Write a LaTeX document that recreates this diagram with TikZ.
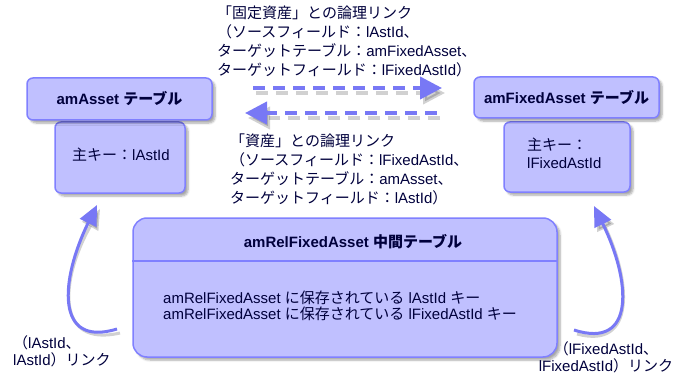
\documentclass[tikz,border=0pt]{standalone}
\usepackage{fontspec}
\setmainfont{Liberation Sans}
\newfontfamily\jpfont{Noto Sans CJK JP}
\newcommand\jpt[1]{{\jpfont #1}}
\usetikzlibrary{arrows.meta,shadows.blur,calc}
\definecolor{boxfill}{RGB}{192,192,255}
\definecolor{boxline}{RGB}{128,128,255}
\definecolor{txt}{RGB}{0,0,60}
\definecolor{arr}{RGB}{120,120,245}
\begin{document}
\begin{tikzpicture}[x=1pt,y=-1pt,
  font=\fontsize{15}{19}\selectfont, text=txt,
  box/.style={draw=boxline, line width=1.5pt, fill=boxfill, rounded corners=6pt, inner sep=0pt,
    blur shadow={shadow xshift=3pt, shadow yshift=-3pt, shadow blur steps=6, shadow opacity=35}},
  hdr/.style={font=\fontsize{15}{16}\selectfont\bfseries},
  lbl/.style={inner sep=0pt, anchor=north west, align=left},
  dasharrow/.style={draw=arr, line width=4pt, dash pattern=on 12pt off 8pt, -{Triangle[length=22pt,width=22pt]}},
  dashshadow/.style={draw=black, opacity=0.18, line width=4pt, dash pattern=on 12pt off 8pt, -{Triangle[length=22pt,width=22pt]}},
  curvearrow/.style={draw=arr, line width=3pt, -{Triangle[length=20pt,width=18pt]}},
  curveshadow/.style={draw=black, opacity=0.18, line width=3pt, -{Triangle[length=20pt,width=18pt]}}
]
\useasboundingbox (0,0) rectangle (677,377);

% left table
\node[box, minimum width=130pt, minimum height=71pt] (lb) at (120,157.5) {};
\node[box, minimum width=185pt, minimum height=42pt, hdr] (lh) at (119.5,99) {amAsset \jpt{テーブル}};
\node[lbl] (lbt) at (72,148) {\jpt{主キー：}lAstId};

% right table
\node[box, minimum width=126pt, minimum height=70pt] (rb) at (567,157) {};
\node[box, minimum width=185pt, minimum height=41pt, hdr] (rh) at (566.5,97.5) {amFixedAsset \jpt{テーブル}};
\node[lbl, font=\fontsize{15}{18}\selectfont] (rbt) at (527,138) {\jpt{主キー：}\\lFixedAstId};

% middle table
\node[box, rounded corners=14pt, minimum width=424pt, minimum height=139pt] (mid) at (345,287.5) {};
\coordinate (divy) at (0,261);
\draw[boxline, line width=1.2pt] (mid.west |- divy) -- (mid.east |- divy);
\node[hdr] (midh) at (353,242) {amRelFixedAsset \jpt{中間テーブル}};
\node[lbl, font=\fontsize{15}{16}\selectfont] (midt) at (163,291) {amRelFixedAsset \jpt{に保存されている} lAstId \jpt{キー}\\amRelFixedAsset \jpt{に保存されている} lFixedAstId \jpt{キー}};

% top link text
\node[lbl] (t1) at (217,6) {\jpt{「固定資産」との論理リンク}\\\jpt{（ソースフィールド：}lAstId\jpt{、}\\\jpt{ターゲットテーブル：}amFixedAsset\jpt{、}\\\jpt{ターゲットフィールド：}lFixedAstId\jpt{）}};
% bottom link text
\node[lbl] (t2) at (230,134) {\jpt{「資産」との論理リンク}\\\jpt{（ソースフィールド：}lFixedAstId\jpt{、}\\\jpt{ターゲットテーブル：}amAsset\jpt{、}\\\jpt{ターゲットフィールド：}lAstId\jpt{）}};

% dashed arrows
\coordinate (d1s) at (253,88);
\coordinate (d1e) at (442,88);
\coordinate (d2s) at (437,113);
\coordinate (d2e) at (245,113);
\draw[dashshadow] ($(d1s)+(3,5)$) -- ($(d1e)+(3,5)$);
\draw[dashshadow] ($(d2s)+(3,5)$) -- ($(d2e)+(3,5)$);
\draw[dasharrow] (d1s) -- (d1e);
\draw[dasharrow] (d2s) -- (d2e);

% curved arrows
\coordinate (c1s) at (117,329);
\coordinate (c1e) at (97,205);
\coordinate (c2s) at (574,330);
\coordinate (c2e) at (594,206);
\draw[curveshadow] ($(c1s)+(3,4)$) .. controls ($(c1s)+(-62,19)$) and ($(c1e)+(-37,75)$) .. ($(c1e)+(3,4)$);
\draw[curveshadow] ($(c2s)+(3,4)$) .. controls ($(c2s)+(62,20)$) and ($(c2e)+(37,75)$) .. ($(c2e)+(3,4)$);
\draw[curvearrow] (c1s) .. controls ($(c1s)+(-62,19)$) and ($(c1e)+(-37,75)$) .. (c1e);
\draw[curvearrow] (c2s) .. controls ($(c2s)+(62,20)$) and ($(c2e)+(37,75)$) .. (c2e);

% link labels
\node[lbl, font=\fontsize{15}{17}\selectfont] (ll) at (13,335) {\jpt{（}lAstId\jpt{、}\\lAstId\jpt{）リンク}};
\node[inner sep=0pt, anchor=north, align=center, font=\fontsize{15}{17}\selectfont] (rl) at (606,341) {\jpt{（}lFixedAstId\jpt{、}\\lFixedAstId\jpt{）リンク}};
\end{tikzpicture}
\end{document}
